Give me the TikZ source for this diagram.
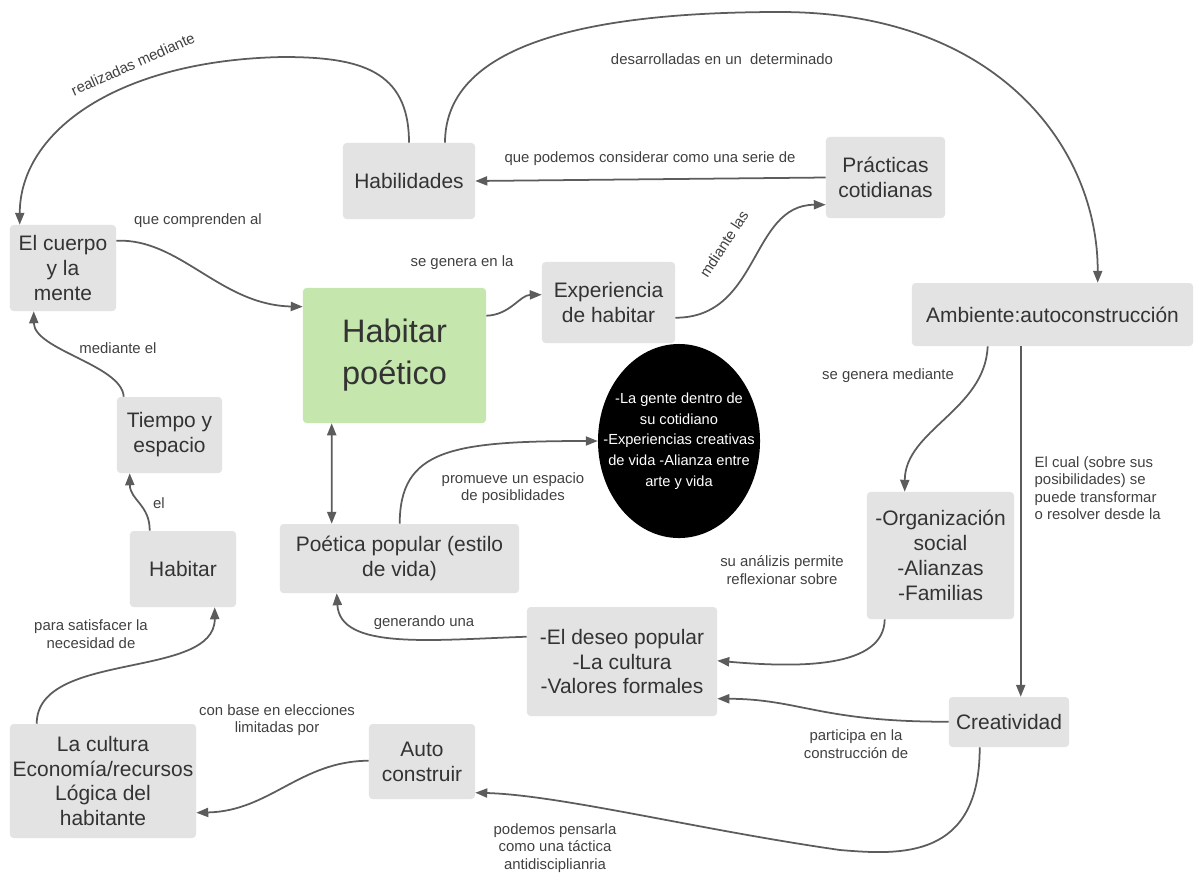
\documentclass[tikz,border=0pt]{standalone}
\usepackage{fontspec}
\setmainfont{Liberation Sans}
\usepackage{tikz}
\usetikzlibrary{arrows.meta,calc,shapes.geometric}
\definecolor{boxgray}{HTML}{E3E3E3}
\definecolor{boxgreen}{HTML}{C5E6AD}
\definecolor{txtgray}{HTML}{333333}
\definecolor{lblgray}{HTML}{404040}
\definecolor{linegray}{HTML}{5C5C5C}
\newcommand{\boxfont}{\fontsize{14.9}{17.7}\selectfont}
\newcommand{\bigfont}{\fontsize{23.1}{29.8}\selectfont}
\newcommand{\labfont}{\fontsize{10.6}{12.4}\selectfont}
\newcommand{\circfont}{\fontsize{10.4}{14.7}\selectfont}
\tikzstyle{cbox}=[rectangle, fill=boxgray, rounded corners=2.5pt, inner sep=1pt, align=center, text=txtgray, font=\boxfont]
\tikzstyle{clab}=[align=center, text=lblgray, font=\labfont, inner sep=1pt]
\tikzstyle{clink}=[draw=linegray, line width=1.25pt, -{Triangle[length=8.5pt,width=6.5pt]}]

\begin{document}
\begin{tikzpicture}[x=0.025cm, y=-0.025cm]
	\useasboundingbox (0,0) rectangle (1195,877);

	%%% boxes, top half
	\node[cbox, minimum width=3.3cm, minimum height=1.9cm] (habil) at (409,181) {Habilidades};
	\node[cbox, minimum width=2.975cm, minimum height=2.025cm] (prac) at (885.5,177.5) {Prácticas\\cotidianas};
	\node[cbox, minimum width=2.65cm, minimum height=2.15cm] (cuerpo) at (63,268) {El cuerpo\\y la\\mente};
	\node[cbox, fill=boxgreen, font=\bigfont, minimum width=4.575cm, minimum height=3.375cm] (poetico) at (394.5,355.5) {Habitar\\poético};
	\node[cbox, minimum width=3.325cm, minimum height=2.025cm] (exper) at (608.5,302.5) {Experiencia\\de habitar};
	\node[cbox, minimum width=7.025cm, minimum height=1.575cm] (ambiente) at (1052.5,314.5) {Ambiente:autoconstrucción};
	% black circle, its text set on top so the ellipse keeps its size
	\node[ellipse, fill=black, inner sep=0pt, minimum width=4.05cm, minimum height=4.85cm] (circ) at (679,441) {};
	\node[text=white, align=center, font=\circfont, inner sep=0pt] (circtext) at (circ.center) {-La gente dentro de\\su cotidiano\\-Experiencias creativas\\de vida -Alianza entre\\arte y vida};

	%%% boxes, bottom half
	\node[cbox, minimum width=2.625cm, minimum height=1.9cm] (tiempo) at (169.5,435) {Tiempo y\\espacio};
	\node[cbox, minimum width=2.65cm, minimum height=1.9cm] (habitar) at (183,569) {Habitar};
	\node[cbox, minimum width=5.975cm, minimum height=1.725cm] (popular) at (399.5,558.5) {Poética popular (estilo\\de vida)};
	\node[cbox, minimum width=3.675cm, minimum height=3.175cm] (organiz) at (940.5,555.5) {-Organización\\social\\-Alianzas\\-Familias};
	\node[cbox, minimum width=4.75cm, minimum height=2.725cm] (deseo) at (622,661.5) {-El deseo popular\\-La cultura\\-Valores formales};
	\node[cbox, minimum width=3cm, minimum height=1.25cm] (creat) at (1009,722) {Creatividad};
	\node[cbox, minimum width=2.65cm, minimum height=1.875cm] (auto) at (422,761.5) {Auto\\construir};
	\node[cbox, minimum width=4.65cm, minimum height=2.85cm] (cultura) at (103,781) {La cultura\\Economía/recursos\\Lógica del\\habitante};

	%%% connectors, top
	\draw[clink] (habil.north) .. controls (409,70) and (360,57) .. (283,57) .. controls (120,60) and (20,130) .. ($(cuerpo.north west)+(10,0)$);
	\draw[clink] ($(habil.north)+(36,0)$) .. controls (445,40) and (600,12) .. (780,12) .. controls (1000,12) and (1098,150) .. ($(ambiente.north west)+(186,0)$);
	\draw[clink] (prac.west) -- (habil.east);
	\draw[clink] ($(cuerpo.north east)+(0,16)$) .. controls (180,238) and (220,305) .. ($(poetico.north west)+(0,19)$);
	\draw[clink] ($(poetico.north east)+(0,28)$) .. controls (510,315) and (520,295) .. ($(exper.north west)+(0,33)$);
	\draw[clink] ($(exper.north east)+(0,56)$) .. controls (760,318) and (750,205) .. ($(prac.north west)+(0,68)$);

	% left column
	\draw[clink] ($(tiempo.north west)+(7,0)$) .. controls (122,365) and (34,350) .. ($(cuerpo.south west)+(24,0)$);
	\draw[clink] ($(habitar.north west)+(20,0)$) .. controls (150,505) and (130,500) .. ($(tiempo.south west)+(13,0)$);
	\draw[clink] ($(cultura.north west)+(27,0)$) .. controls (37,650) and (215,680) .. ($(habitar.south west)+(85,0)$);

	% middle
	\draw[clink, {Triangle[length=8.5pt,width=6.5pt]}-{Triangle[length=8.5pt,width=6.5pt]}] ($(poetico.south west)+(29,0)$) -- ($(popular.north west)+(52,0)$);
	\draw[clink] ($(popular.north west)+(120,0)$) .. controls (400,450) and (450,441) .. (circ.west);
	\draw[clink] ($(deseo.north west)+(0,30)$) .. controls (430,640) and (340,650) .. ($(popular.south west)+(57,0)$);

	% right side
	\draw[clink] ($(ambiente.south west)+(76,0)$) .. controls (985,410) and (905,430) .. ($(organiz.north west)+(38,0)$);
	\coordinate (cdown) at ($(creat.north west)+(72,0)$);
	\draw[clink] (cdown |- ambiente.south) -- (cdown);
	\draw[clink] ($(organiz.south west)+(18,0)$) .. controls (884,668) and (800,668) .. ($(deseo.north east)+(0,54)$);
	\draw[clink] ($(creat.north west)+(0,25)$) .. controls (820,722) and (800,699) .. ($(deseo.north east)+(0,92)$);

	% bottom
	\draw[clink] ($(creat.south west)+(31,0)$) .. controls (980,860) and (900,855) .. (840,850) .. controls (700,830) and (560,795) .. ($(auto.north east)+(0,69)$);
	\draw[clink] ($(auto.north west)+(0,37)$) .. controls (300,761) and (270,811) .. ($(cultura.north east)+(0,89)$);

	%%% labels
	\node[clab, rotate=24] (lreal) at (133,64) {realizadas mediante};
	\node[clab] (ldesa) at (722,59) {desarrolladas en un\ \ determinado};
	\node[clab] (lserie) at (650,159) {que podemos considerar como una serie de};
	\node[clab] (lcomp) at (198,221) {que comprenden al};
	\node[clab] (lgen) at (462,263) {se genera en la};
	\node[clab, rotate=57] (lmdi) at (724,244) {mdiante las};
	\node[clab] (lmed) at (118,348) {mediante el};
	\node[clab] (lel) at (159,503) {el};
	\node[clab] (lsat) at (91,634) {para satisfacer la\\necesidad de};
	\node[clab] (lprom) at (513,488) {promueve un espacio\\de posiblidades};
	\node[clab] (lgenu) at (424,623) {generando una};
	\node[clab] (lgenm) at (888,376) {se genera mediante};
	\node[clab, align=left, anchor=west] (lcual) at (1033,488) {El cual (sobre sus\\posibilidades) se\\puede transformar\\o resolver desde la};
	\node[clab] (lanal) at (782,570) {su análizis permite\\reflexionar sobre};
	\node[clab] (lpart) at (856,744) {participa en la\\construcción de};
	\node[clab] (lpens) at (555,848) {podemos pensarla\\como una táctica\\antidisciplianria};
	\node[clab] (lbase) at (277,720) {con base en elecciones\\limitadas por};
\end{tikzpicture}
\end{document}
